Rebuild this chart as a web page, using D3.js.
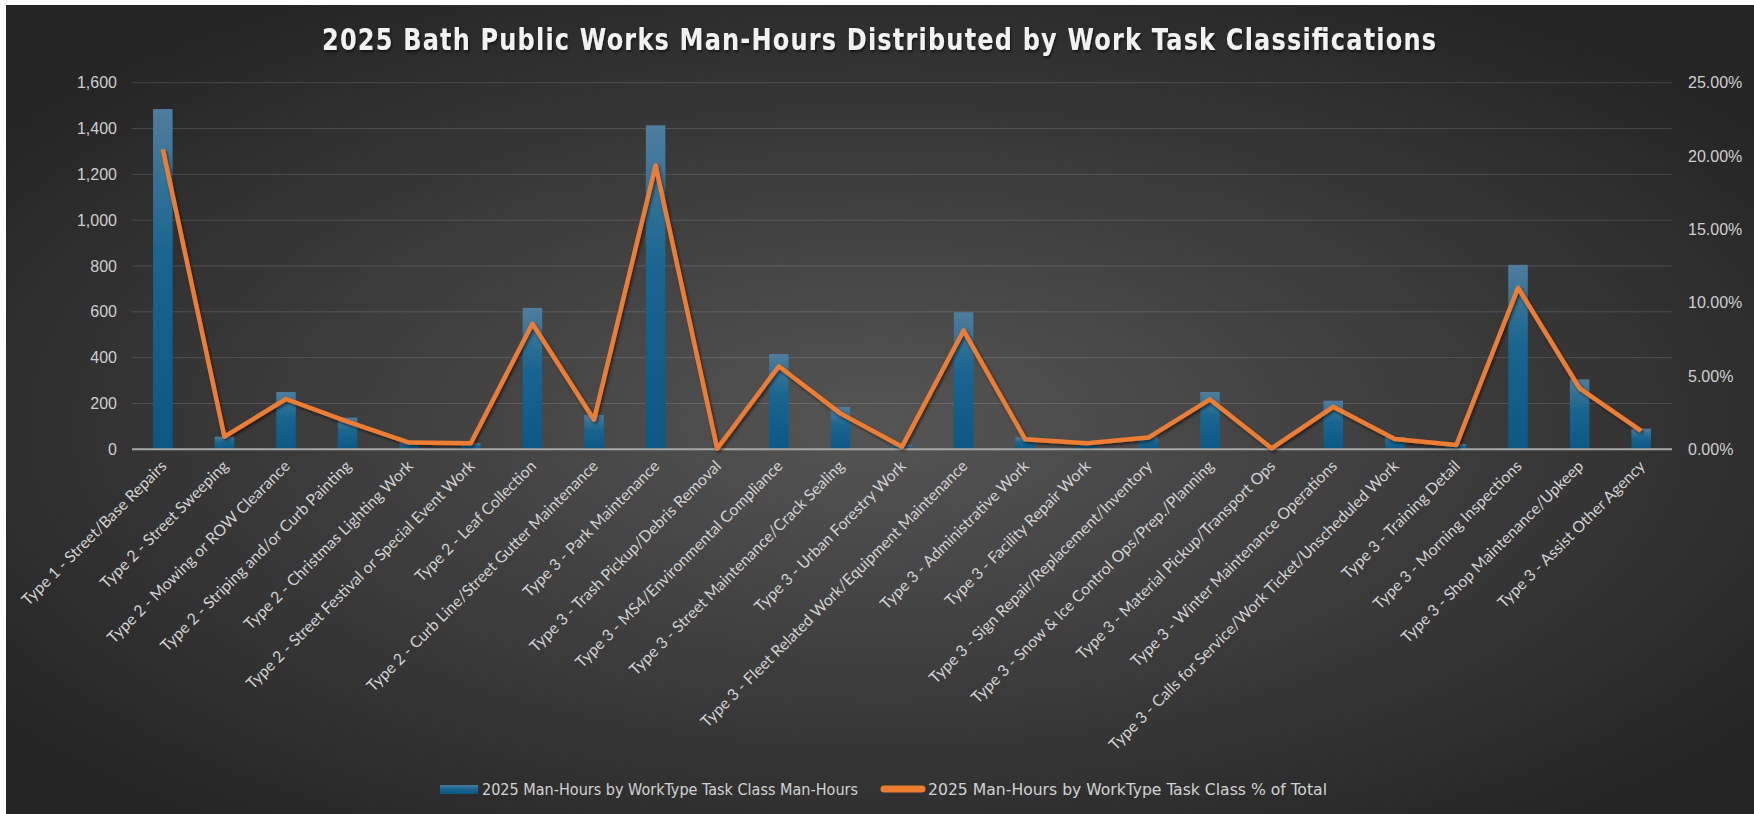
<!DOCTYPE html>
<html>
<head>
<meta charset="utf-8">
<script src="https://cdn.jsdelivr.net/npm/d3@7"></script>
<style>
  body { margin: 0; background: #fff; }
  svg { display: block; }
</style>
</head>
<body>
<div class="vis"></div>
<script>
// data
var categories = [
  "Type 1 - Street/Base Repairs",
  "Type 2 - Street Sweeping",
  "Type 2 - Mowing or ROW Clearance",
  "Type 2 - Striping and/or Curb Painting",
  "Type 2 - Christmas Lighting Work",
  "Type 2 - Street Festival or Special Event Work",
  "Type 2 - Leaf Collection",
  "Type 2 - Curb Line/Street Gutter Maintenance",
  "Type 3 - Park Maintenance",
  "Type 3 - Trash Pickup/Debris Removal",
  "Type 3 - MS4/Environmental Compliance",
  "Type 3 - Street Maintenance/Crack Sealing",
  "Type 3 - Urban Forestry Work",
  "Type 3 - Fleet Related Work/Equipment Maintenance",
  "Type 3 - Administrative Work",
  "Type 3 - Facility Repair Work",
  "Type 3 - Sign Repair/Replacement/Inventory",
  "Type 3 - Snow & Ice Control Ops/Prep./Planning",
  "Type 3 - Material Pickup/Transport Ops",
  "Type 3 - Winter Maintenance Operations",
  "Type 3 - Calls for Service/Work Ticket/Unscheduled Work",
  "Type 3 - Training Detail",
  "Type 3 - Morning Inspections",
  "Type 3 - Shop Maintenance/Upkeep",
  "Type 3 - Assist Other Agency"
]
var manHours = [1485, 55, 250, 138, 30, 26, 617, 150, 1414, 3, 416, 185, 18, 598, 52, 33, 57, 250, 5, 212, 53, 22, 805, 305, 90]
var pctTotal = [0.2046, 0.0086, 0.0343, 0.0188, 0.0046, 0.0041, 0.0856, 0.0202, 0.1935, 0.0004, 0.0566, 0.0245, 0.0018, 0.081, 0.0068, 0.0041, 0.008, 0.034, 0.0007, 0.029, 0.007, 0.003, 0.1102, 0.0416, 0.0125]
var leftTicks = [0, 200, 400, 600, 800, 1000, 1200, 1400, 1600]
var rightTicks = [0, 0.05, 0.10, 0.15, 0.20, 0.25]
var titleText = "2025 Bath Public Works Man-Hours Distributed by Work Task Classifications"
var legendBar = "2025 Man-Hours by WorkType Task Class Man-Hours"
var legendLine = "2025 Man-Hours by WorkType Task Class % of Total"

var W = 1754, H = 814
var plotL = 132, plotR = 1672, plotT = 82.7, plotB = 449.3

var svg = d3.select(".vis").append("svg")
  .attr("width", W)
  .attr("height", H)

var defs = svg.append("defs")
var bg = defs.append("radialGradient")
  .attr("id", "bg")
  .attr("cx", 0.5).attr("cy", 0.52).attr("r", 0.62)
bg.append("stop").attr("offset", "0%").attr("stop-color", "#555555")
bg.append("stop").attr("offset", "100%").attr("stop-color", "#252525")

var barGrad = defs.append("linearGradient")
  .attr("id", "barGrad")
  .attr("x1", 0).attr("y1", 0).attr("x2", 0).attr("y2", 1)
barGrad.append("stop").attr("offset", "0%").attr("stop-color", "#4f7d9d")
barGrad.append("stop").attr("offset", "45%").attr("stop-color", "#176590")
barGrad.append("stop").attr("offset", "100%").attr("stop-color", "#0b5884")

var shadow = defs.append("filter").attr("id", "shadow")
  .attr("x", "-10%").attr("y", "-10%").attr("width", "120%").attr("height", "130%")
shadow.append("feDropShadow")
  .attr("dx", 1.5).attr("dy", 2).attr("stdDeviation", 1.5)
  .attr("flood-color", "#000").attr("flood-opacity", 0.55)

// chart area
svg.append("rect")
  .attr("x", 6).attr("y", 5)
  .attr("width", W - 6).attr("height", H - 5)
  .attr("fill", "url(#bg)")

var x = d3.scaleBand()
  .domain(categories)
  .range([plotL, plotR])
  .paddingInner(0.683)
  .paddingOuter(0.683 / 2)

var y = d3.scaleLinear().domain([0, 1600]).range([plotB, plotT])
var y2 = d3.scaleLinear().domain([0, 0.25]).range([plotB, plotT])

// gridlines
svg.append("g").selectAll("line")
  .data(leftTicks.slice(1))
  .enter().append("line")
  .attr("x1", plotL).attr("x2", plotR)
  .attr("y1", d => y(d)).attr("y2", d => y(d))
  .attr("stroke", "#ffffff")
  .attr("stroke-opacity", 0.14)
  .attr("stroke-width", 1)

// left axis
var yAxis = svg.append("g")
  .attr("transform", "translate(" + plotL + ",0)")
  .call(d3.axisLeft(y).tickValues(leftTicks).tickSize(0).tickPadding(15).tickFormat(d3.format(",")))
yAxis.select(".domain").remove()
yAxis.selectAll("text")
  .attr("fill", "#cfcfcf")
  .style("font-family", "'Liberation Sans', Arial, sans-serif")
  .style("font-size", "16px")

// right axis
var y2Axis = svg.append("g")
  .attr("transform", "translate(" + plotR + ",0)")
  .call(d3.axisRight(y2).tickValues(rightTicks).tickSize(0).tickPadding(16).tickFormat(d3.format(".2%")))
y2Axis.select(".domain").remove()
y2Axis.selectAll("text")
  .attr("fill", "#cfcfcf")
  .style("font-family", "'Liberation Sans', Arial, sans-serif")
  .style("font-size", "16px")

// bars
svg.append("g").selectAll("rect")
  .data(manHours)
  .enter().append("rect")
  .attr("x", (d, i) => x(categories[i]))
  .attr("width", x.bandwidth())
  .attr("y", d => y(d))
  .attr("height", d => y(0) - y(d))
  .attr("fill", "url(#barGrad)")

// baseline
svg.append("line")
  .attr("x1", plotL).attr("x2", plotR)
  .attr("y1", plotB).attr("y2", plotB)
  .attr("stroke", "#a8a8a8")
  .attr("stroke-width", 2)

// line
var line = d3.line()
  .x((d, i) => x(categories[i]) + x.bandwidth() / 2)
  .y(d => y2(d))
svg.append("path")
  .datum(pctTotal)
  .attr("d", line)
  .attr("fill", "none")
  .attr("stroke", "#ed7d31")
  .attr("stroke-width", 4.5)
  .attr("stroke-linejoin", "round")
  .attr("filter", "url(#shadow)")

// category labels
svg.append("g").selectAll("text")
  .data(categories)
  .enter().append("text")
  .attr("transform", d => "translate(" + (x(d) + x.bandwidth() / 2 - 3) + "," + (plotB + 10) + ") rotate(-45)")
  .attr("text-anchor", "end")
  .attr("dy", "0.7em")
  .attr("fill", "#d2d2d2")
  .style("font-family", "Lato, 'Open Sans', sans-serif")
  .style("font-size", "15.8px")
  .text(d => d)

// title (narrowed glyphs, spaced out like the original)
var tScale = 0.8
svg.append("g")
  .attr("transform", "translate(879,50) scale(" + tScale + ",1)")
  .append("text")
  .attr("x", 0).attr("y", 0)
  .attr("text-anchor", "middle")
  .attr("textLength", 1114 / tScale)
  .attr("lengthAdjust", "spacing")
  .attr("fill", "#f2f2f2")
  .attr("filter", "url(#shadow)")
  .style("font-family", "'DejaVu Sans', sans-serif")
  .style("font-weight", "bold")
  .style("font-size", "30px")
  .text(titleText)

// legend
var lg = svg.append("g")
lg.append("rect")
  .attr("x", 440).attr("y", 785).attr("width", 38).attr("height", 9)
  .attr("fill", "url(#barGrad)")
lg.append("text")
  .attr("x", 482).attr("y", 795)
  .attr("textLength", 376).attr("lengthAdjust", "spacingAndGlyphs")
  .attr("fill", "#d2d2d2")
  .style("font-family", "'Liberation Sans Narrow', 'DejaVu Sans Condensed', 'DejaVu Sans', sans-serif")
  .style("font-stretch", "condensed")
  .style("font-size", "15.5px")
  .text(legendBar)
lg.append("line")
  .attr("x1", 884).attr("x2", 922).attr("y1", 789).attr("y2", 789)
  .attr("stroke", "#ed7d31").attr("stroke-width", 7).attr("stroke-linecap", "round")
lg.append("text")
  .attr("x", 928).attr("y", 795)
  .attr("textLength", 399).attr("lengthAdjust", "spacingAndGlyphs")
  .attr("fill", "#d2d2d2")
  .style("font-family", "'Liberation Sans Narrow', 'DejaVu Sans Condensed', 'DejaVu Sans', sans-serif")
  .style("font-stretch", "condensed")
  .style("font-size", "15.5px")
  .text(legendLine)
</script>
</body>
</html>
